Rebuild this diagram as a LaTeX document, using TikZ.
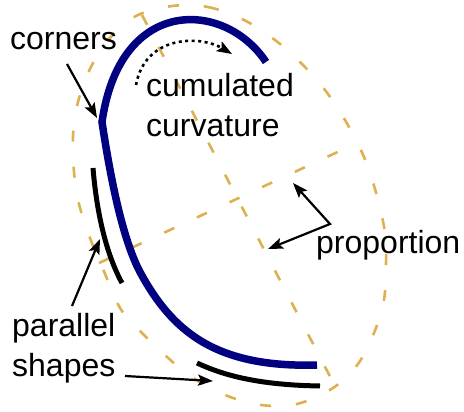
\documentclass[tikz,border=0pt]{standalone}
\usepackage{fontspec}
\setmainfont{Liberation Sans}
\usetikzlibrary{arrows.meta}
\definecolor{goldline}{RGB}{221,176,80}
\definecolor{navyline}{RGB}{0,0,128}
\begin{document}
\begin{tikzpicture}[x=1pt,y=-1pt,
  guide/.style={draw=goldline, line width=2.6pt, dash pattern=on 11pt off 25pt},
  thickblue/.style={draw=navyline, line width=7.5pt, line cap=butt, line join=miter},
  thickblack/.style={draw=black, line width=5pt, line cap=butt},
  pointer/.style={draw=black, line width=2.2pt, -{Stealth[length=15pt,width=11pt,inset=3pt]}},
  twopointer/.style={draw=black, line width=2.2pt, line join=miter, {Stealth[length=15pt,width=11pt,inset=3pt]}-{Stealth[length=15pt,width=11pt,inset=3pt]}},
  dotpointer/.style={draw=black, line width=2.6pt, dash pattern=on 3pt off 3.5pt, -{Stealth[length=15pt,width=11pt,inset=3pt]}},
  lbl/.style={inner sep=0pt, anchor=base west, font=\fontsize{32}{40}\selectfont}]
\useasboundingbox (0,0) rectangle (464,412);
% dashed outline and axes
\draw[guide] plot[smooth cycle, tension=0.55] coordinates {(172,6) (208,7) (244,20) (275,40) (301,63) (325,90) (345,120) (364,157) (377,196) (385,233) (386,265) (384,300) (374,333) (358,364) (333,388) (297,404) (261,405) (225,395) (190,376) (166,356) (140,331) (120,308) (103,269) (90,238) (79,204) (74,172) (73,136) (78,102) (90,69) (108,40) (136,16)};
\coordinate (ma1) at (142,15);
\coordinate (ma2) at (335,386);
\coordinate (mi1) at (99,263);
\coordinate (mi2) at (357,143);
\draw[guide] (ma1) -- (ma2);
\draw[guide] (mi1) -- (mi2);
% blue shape
\coordinate (bs) at (266,62);
\coordinate (bk) at (102,122);
\coordinate (bm) at (140,272);
\coordinate (be) at (317,365);
\draw[thickblue] (bs) .. controls (225,0) and (120,-5) .. (bk)
  .. controls (110,175) and (122,238) .. (bm)
  .. controls (172,331) and (215,368) .. (be);
% parallel black shapes
\coordinate (la) at (93,168);
\coordinate (lb) at (122,283);
\draw[thickblack] (la) .. controls (96,205) and (104,250) .. (lb);
\coordinate (ua) at (197,363);
\coordinate (ub) at (320,386);
\draw[thickblack] (ua) .. controls (225,376) and (260,385) .. (ub);
% labels
\node[lbl] (corners) at (10,50) {corners};
\node[lbl] (cum1) at (146,97) {cumulated};
\node[lbl] (cum2) at (146,137) {curvature};
\node[lbl] (par1) at (12,336) {parallel};
\node[lbl] (par2) at (12,376) {shapes};
\node[lbl] (prop) at (316,253) {proportion};
% arrows
\coordinate (cA) at (67,64);
\coordinate (cT) at (97,118);
\draw[pointer] (cA) -- (cT);
\coordinate (pA) at (72,306);
\coordinate (pT) at (100,239);
\draw[pointer] (pA) -- (pT);
\coordinate (pB) at (125,376);
\coordinate (pU) at (213,381);
\draw[pointer] (pB) -- (pU);
\coordinate (qK) at (330,224);
\coordinate (qT1) at (293,183);
\coordinate (qT2) at (268,249);
\draw[twopointer] (qT1) -- (qK) -- (qT2);
\coordinate (d1) at (136,85);
\coordinate (d2) at (232,54);
\draw[dotpointer] (d1) .. controls (145,35) and (200,35) .. (d2);
\end{tikzpicture}
\end{document}
